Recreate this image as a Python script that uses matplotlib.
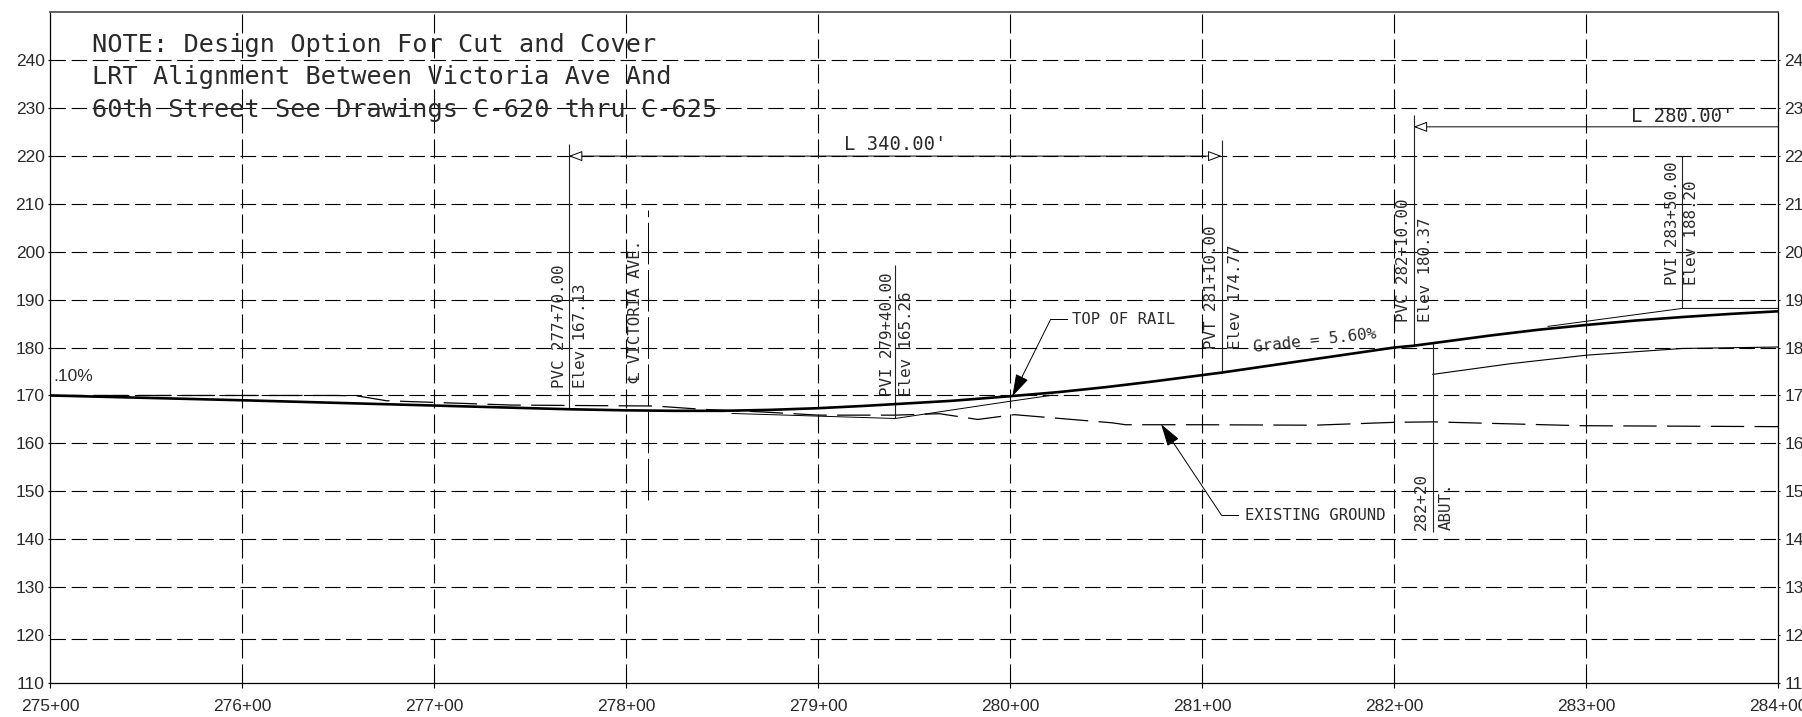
import matplotlib
matplotlib.use("Agg")
import matplotlib.pyplot as plt

plt.rcParams['lines.scale_dashes'] = False

MONO = ['DejaVu Sans Mono', 'DejaVu Sans']
TICKFONT = ['Liberation Sans', 'DejaVu Sans']
INK = '#2a2a2a'

# chart values
stations = [275, 276, 277, 278, 279, 280, 281, 282, 283, 284]
station_labels = ['275+00', '276+00', '277+00', '278+00', '279+00', '280+00',
                  '281+00', '282+00', '283+00', '284+00']
elev_ticks = [110, 120, 130, 140, 150, 160, 170, 180, 190, 200, 210, 220, 230, 240]
# the 120 line sits a little low on the sheet
elev_grid = [119.2, 130, 140, 150, 160, 170, 180, 190, 200, 210, 220, 230, 240]

rail_x = [275, 276, 277, 277.7, 278, 278.25, 278.5, 278.75, 279, 279.25, 279.4, 279.7,
          280, 280.25, 280.5, 280.75, 281, 281.1, 282, 282.1, 282.5, 282.75, 283,
          283.25, 283.5, 283.75, 284]
rail_y = [170, 169.0, 167.9, 167.13, 166.9, 166.8, 166.8, 167.0, 167.35, 167.85, 168.2, 168.9,
          169.85, 170.7, 171.75, 172.95, 174.25, 174.77, 180.0, 180.37, 182.5, 183.7, 184.7,
          185.6, 186.35, 187.0, 187.55]

ground_x = [275, 276.49, 276.6, 276.75, 277.4, 278.15, 278.4, 278.69, 279.0, 279.4,
            279.63, 279.83, 280.02, 280.53, 280.6, 281, 281.58, 282, 282.2, 282.97, 284]
ground_y = [170, 170, 169.9, 168.9, 168, 167.8, 167.1, 166.6, 165.9, 165.9,
            166.2, 165, 166, 164.3, 163.9, 163.9, 163.8, 164.4, 164.5, 163.7, 163.5]

tangent1_x = [278.55, 279.4, 280.0, 280.22]
tangent1_y = [166.25, 165.2, 168.8, 170.06]
tangent2_x = [282.8, 283.5, 284]
tangent2_y = [184.4, 188.15, 188.15]
abut_x = [282.2, 282.6, 283, 283.5, 284]
abut_y = [174.4, 176.6, 178.4, 179.8, 180.1]

# vertical callouts: station, bottom, top
callout_x = [277.7, 279.4, 281.1, 282.1, 283.5, 282.2]
callout_lo = [167.13, 165.26, 174.77, 180.37, 188.2, 141.6]
callout_hi = [222.4, 197.1, 223.3, 228.4, 220, 181]

rotated_labels = ['PVC 277+70.00', 'Elev 167.13', '\u2104 VICTORIA AVE.',
                  'PVI 279+40.00', 'Elev 165.26',
                  'PVT 281+10.00', 'Elev 174.77',
                  'PVC 282+10.00', 'Elev 180.37',
                  'PVI 283+50.00', 'Elev 188.20',
                  '282+20', 'ABUT.']
rotated_x = [277.65, 277.76, 278.05, 279.36, 279.46, 281.05, 281.17,
             282.05, 282.16, 283.45, 283.55, 282.14, 282.27]
rotated_y = [171.6, 171.6, 172.6, 169.85, 169.85, 179.65, 179.65,
             185.3, 185.3, 193, 193, 142.0, 142.0]

note_lines = ['NOTE: Design Option For Cut and Cover',
              'LRT Alignment Between Victoria Ave And',
              '60th Street See Drawings C-620 thru C-625']
note_y = [243.0, 236.3, 229.6]

fig = plt.figure(figsize=(18.02, 7.17), dpi=100)
ax = fig.add_axes([50.4 / 1802, 1 - 683.3 / 717, 1728 / 1802, 671.6 / 717])
ax.set_xlim(275, 284)
ax.set_ylim(110, 250)

for y in elev_grid:
    ax.axhline(y, color='black', lw=0.8, dashes=(11.2, 4), zorder=1)
for x in stations[1:-1]:
    ax.axvline(x, color='black', lw=0.8, dashes=(13.7, 4.3), zorder=1)

ax.set_xticks(stations)
ax.set_xticklabels(station_labels, family=TICKFONT, fontsize=12.5, color=INK)
ax.set_yticks(elev_ticks)
ax.set_yticklabels([str(v) for v in elev_ticks], family=TICKFONT, fontsize=12.5, color=INK)
ax.tick_params(axis='x', length=3.6, width=0.8, pad=8)
ax.tick_params(axis='y', length=1.2, width=0.8, pad=3, left=True, right=True,
               labelleft=True, labelright=True)
for side in ax.spines.values():
    side.set_linewidth(0.9)
ax.spines['top'].set_color('#555555')
ax.spines['top'].set_linewidth(1.3)

ax.plot(rail_x, rail_y, color='black', lw=1.9, zorder=4)
ax.plot(ground_x, ground_y, color='black', lw=0.9, dashes=(24, 7.5), zorder=3)
ax.plot(tangent1_x, tangent1_y, color='black', lw=0.7, zorder=3)
ax.plot(tangent2_x, tangent2_y, color='black', lw=0.7, zorder=3)
ax.plot(abut_x, abut_y, color='black', lw=0.8, zorder=3)

ax.vlines(callout_x, callout_lo, callout_hi, color='#222222', lw=0.8, zorder=3)
ax.plot([278.115, 278.115], [148.2, 208.6], color='black', lw=0.7, dashes=(30, 4), zorder=3)

# dimension lines with open heads
ax.annotate('', xy=(277.7, 219.9), xytext=(281.1, 219.9), zorder=5,
            arrowprops=dict(arrowstyle='<|-|>,head_length=8.4,head_width=3.2', fc='white',
                            ec='black', lw=0.7, shrinkA=0, shrinkB=0, mutation_scale=1))
ax.annotate('', xy=(282.1, 226), xytext=(284, 226), zorder=5,
            arrowprops=dict(arrowstyle='-|>,head_length=8.4,head_width=3.2', fc='white',
                            ec='black', lw=0.7, shrinkA=0, shrinkB=0, mutation_scale=1))

# leaders
solid_head = dict(arrowstyle='-|>,head_length=14,head_width=4.2', fc='black', ec='black',
                  lw=0.7, shrinkA=0, shrinkB=0, mutation_scale=1)
ax.plot([280.295, 280.21], [185.9, 185.9], color='black', lw=0.7)
ax.annotate('', xy=(280.01, 169.8), xytext=(280.21, 185.9), arrowprops=solid_head, zorder=6)
ax.plot([281.10, 281.185], [145, 145], color='black', lw=0.7)
ax.annotate('', xy=(280.785, 164.0), xytext=(281.10, 145), arrowprops=solid_head, zorder=6)

for txt, x, y in zip(rotated_labels, rotated_x, rotated_y):
    ax.text(x, y, txt, rotation=90, ha='center', va='bottom', family=MONO, fontsize=11.4,
            color=INK, zorder=7)

for txt, y in zip(note_lines, note_y):
    ax.text(275.217, y, txt, ha='left', va='center', family=MONO, fontsize=18.2, color=INK, zorder=7)

ax.text(279.4, 222.3, "L 340.00'", ha='center', va='center', family=MONO, fontsize=13.6, color=INK)
ax.text(283.5, 228.2, "L 280.00'", ha='center', va='center', family=MONO, fontsize=13.6, color=INK)
ax.text(280.32, 185.9, 'TOP OF RAIL', ha='left', va='center', family=MONO, fontsize=11.2, color=INK)
ax.text(281.22, 145, 'EXISTING GROUND', ha='left', va='center', family=MONO, fontsize=11.2, color=INK)
ax.text(281.585, 181.5, 'Grade = 5.60%', rotation=6.4, ha='center', va='center',
        family=MONO, fontsize=11.4, color=INK)
ax.text(275.014, 174, '.10%', ha='left', va='center', family=TICKFONT, fontsize=12.5, color=INK)

fig.savefig('out.png', dpi=100)
